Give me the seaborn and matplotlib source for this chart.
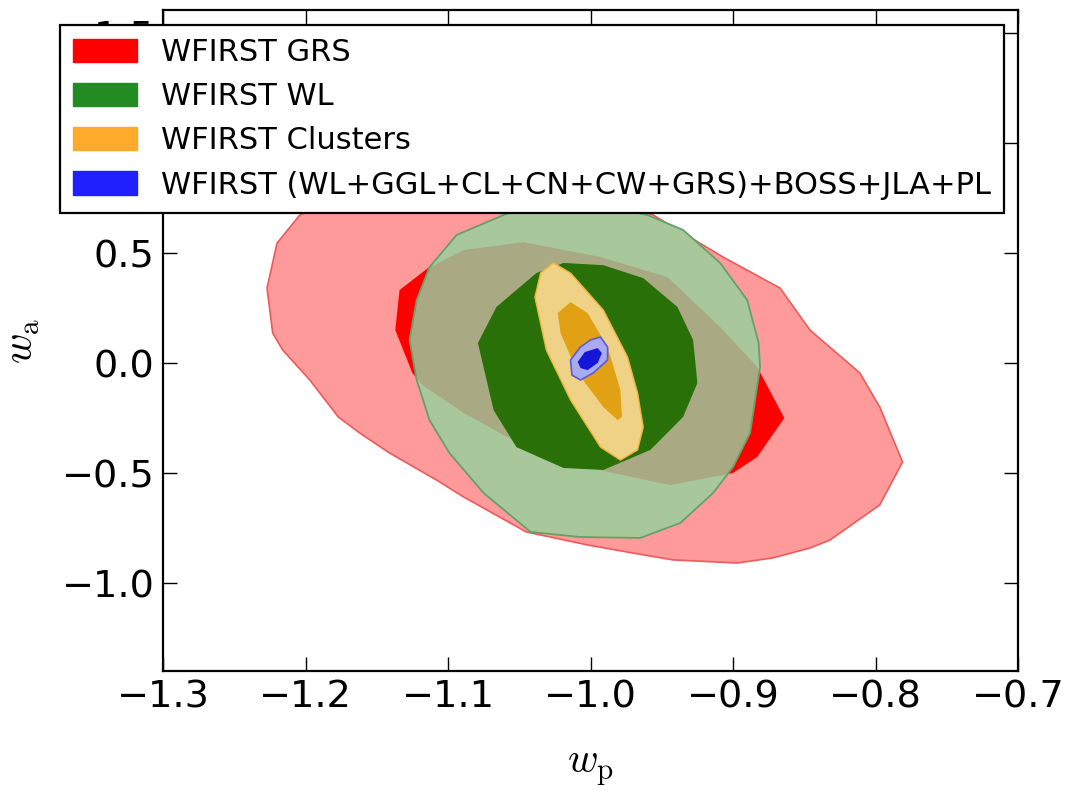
import matplotlib
matplotlib.use("Agg")
import matplotlib.pyplot as plt
from matplotlib.patches import Patch
import seaborn as sns

# ---- data (w_p, w_a contour vertices) ----
labels = ["WFIRST GRS", "WFIRST WL", "WFIRST Clusters",
          "WFIRST (WL+GGL+CL+CN+CW+GRS)+BOSS+JLA+PL"]

grs_outer_x = [-1.204, -1.220, -1.227, -1.223, -1.216, -1.197, -1.190, -1.177, -1.162, -1.141,
               -1.108, -1.089, -1.045, -1.002, -0.970, -0.942, -0.897, -0.872, -0.846, -0.832,
               -0.797, -0.781, -0.797, -0.811, -0.846, -0.867, -0.907, -0.942, -0.956,
               -0.993, -1.049, -1.120, -1.176]
grs_outer_y = [0.673, 0.545, 0.341, 0.136, 0.059, -0.077, -0.136, -0.245, -0.318, -0.409,
               -0.532, -0.609, -0.768, -0.827, -0.864, -0.895, -0.909, -0.886, -0.841, -0.805,
               -0.645, -0.450, -0.200, -0.045, 0.150, 0.341, 0.482, 0.618, 0.673,
               0.764, 0.823, 0.823, 0.764]

grs_inner_x = [-1.137, -1.134, -1.114, -1.089, -1.047, -0.993, -0.946, -0.909, -0.883, -0.864,
               -0.883, -0.900, -0.944, -0.984, -1.016, -1.042, -1.089, -1.118, -1.125]
grs_inner_y = [0.150, 0.332, 0.432, 0.514, 0.550, 0.482, 0.391, 0.164, -0.018, -0.250,
               -0.427, -0.500, -0.555, -0.500, -0.455, -0.395, -0.227, -0.100, -0.045]

wl_outer_x = [-1.061, -1.094, -1.113, -1.122, -1.127, -1.122, -1.113, -1.099, -1.075, -1.042,
              -1.007, -0.965, -0.937, -0.914, -0.900, -0.888, -0.881, -0.882, -0.890, -0.909,
              -0.935, -0.960, -0.993, -1.021, -1.042]
wl_outer_y = [0.673, 0.582, 0.436, 0.286, 0.105, -0.077, -0.259, -0.409, -0.591, -0.768,
              -0.791, -0.795, -0.727, -0.591, -0.473, -0.318, -0.018, 0.091, 0.286, 0.455,
              0.605, 0.673, 0.718, 0.732, 0.718]

wl_inner_x = [-1.019, -0.991, -0.963, -0.939, -0.928, -0.925, -0.935, -0.958, -0.991, -1.019,
              -1.052, -1.068, -1.079, -1.066, -1.038]
wl_inner_y = [0.455, 0.445, 0.386, 0.255, 0.105, -0.091, -0.245, -0.395, -0.486, -0.477,
              -0.382, -0.214, 0.091, 0.255, 0.409]

cl_outer_x = [-1.026, -1.014, -0.991, -0.974, -0.967, -0.963, -0.967, -0.979, -0.993, -1.014,
              -1.031, -1.039, -1.035]
cl_outer_y = [0.455, 0.409, 0.241, 0.027, -0.136, -0.291, -0.395, -0.441, -0.382, -0.168,
              0.059, 0.300, 0.409]

cl_inner_x = [-1.014, -1.002, -0.988, -0.979, -0.978, -0.981, -0.991, -1.009, -1.021, -1.023]
cl_inner_y = [0.277, 0.227, 0.073, -0.123, -0.245, -0.259, -0.200, -0.045, 0.136, 0.227]

all_outer_x = [-0.993, -0.988, -0.988, -0.998, -1.007, -1.013, -1.014, -1.007, -1.000]
all_outer_y = [0.118, 0.073, 0.014, -0.045, -0.077, -0.055, 0.014, 0.073, 0.105]

all_inner_x = [-0.995, -0.992, -0.995, -1.002, -1.007, -1.009, -1.004]
all_inner_y = [0.068, 0.045, 0.000, -0.032, -0.023, 0.005, 0.050]

xticks = [-1.3, -1.2, -1.1, -1.0, -0.9, -0.8, -0.7]
yticks = [-1.0, -0.5, 0.0, 0.5, 1.0, 1.5]

# ---- style ----
sns.set_style("ticks", {"xtick.direction": "in", "ytick.direction": "in"})
plt.rcParams["font.family"] = ["DejaVu Sans"]
plt.rcParams["mathtext.fontset"] = "cm"
for k in ["text.color", "axes.labelcolor", "xtick.color", "ytick.color", "axes.edgecolor"]:
    plt.rcParams[k] = "black"

fig = plt.figure(figsize=(10.73, 7.90), dpi=100)
ax = fig.add_axes([163/1073, 1-671/790, (1018-163)/1073, (671-10)/790])

# GRS
ax.fill(grs_outer_x, grs_outer_y, facecolor="#FF9A9A", edgecolor="#EE5A5A", lw=1.2, zorder=1)
ax.fill(grs_inner_x, grs_inner_y, facecolor="#FF0000", edgecolor="none", zorder=1.1)
# WL outer (light) with red inner seen through it
go = ax.fill(wl_outer_x, wl_outer_y, facecolor="#A8C89C", edgecolor="none", zorder=1.2)[0]
kh = ax.fill(grs_inner_x, grs_inner_y, facecolor="#A9AA84", edgecolor="none", zorder=1.3)[0]
kh.set_clip_path(go)
ax.fill(wl_outer_x, wl_outer_y, fill=False, edgecolor="#66A066", lw=1.3, zorder=1.4)
ax.fill(wl_inner_x, wl_inner_y, facecolor="#2A7008", edgecolor="none", zorder=1.5)
# Clusters
ax.fill(cl_outer_x, cl_outer_y, facecolor="#EFD286", edgecolor="#F2B43A", lw=1.0, zorder=1.6)
ax.fill(cl_inner_x, cl_inner_y, facecolor="#E2A114", edgecolor="none", zorder=1.7)
# Combined
ax.fill(all_outer_x, all_outer_y, facecolor="#AAAAF0", edgecolor="#5A5AE0", lw=1.2, zorder=1.8)
ax.fill(all_inner_x, all_inner_y, facecolor="#1616D8", edgecolor="none", zorder=1.9)

ax.set_xlim(-1.3, -0.7)
ax.set_ylim(-1.4, 1.605)
ax.set_xticks(xticks)
ax.set_yticks(yticks)
ax.set_xticklabels([f"{t:.1f}".replace("-", "\u2212") for t in xticks])
ax.set_yticklabels([f"{t:.1f}".replace("-", "\u2212") for t in yticks])
ax.tick_params(direction="in", top=True, right=True, length=10, width=1.0,
               labelsize=27.5, pad=6, color="black", labelcolor="black")
for s in ax.spines.values():
    s.set_linewidth(1.6)
    s.set_color("black")

ax.set_xlabel(r"$w_{\rm p}$", fontsize=30, labelpad=22)
ax.set_ylabel(r"$w_{\rm a}$", fontsize=30, labelpad=14)

handles = [Patch(facecolor="#FF0000", edgecolor="#FF0000"),
           Patch(facecolor="#228B22", edgecolor="#228B22"),
           Patch(facecolor="#FFAA2A", edgecolor="#FFAA2A"),
           Patch(facecolor="#2020FF", edgecolor="#2020FF")]
leg = ax.legend(handles, labels, loc="upper left",
                bbox_to_anchor=(60/1073, 1-25/790), bbox_transform=fig.transFigure,
                fontsize=22, frameon=True, fancybox=False, framealpha=1,
                edgecolor="black", handlelength=2.1, handleheight=0.8,
                handletextpad=0.8, labelspacing=0.5, borderpad=0.42, borderaxespad=0)
leg.get_frame().set_linewidth(1.6)
for t in leg.get_texts():
    t.set_color("black")
leg.set_zorder(10)

fig.savefig("out.png", dpi=100)
